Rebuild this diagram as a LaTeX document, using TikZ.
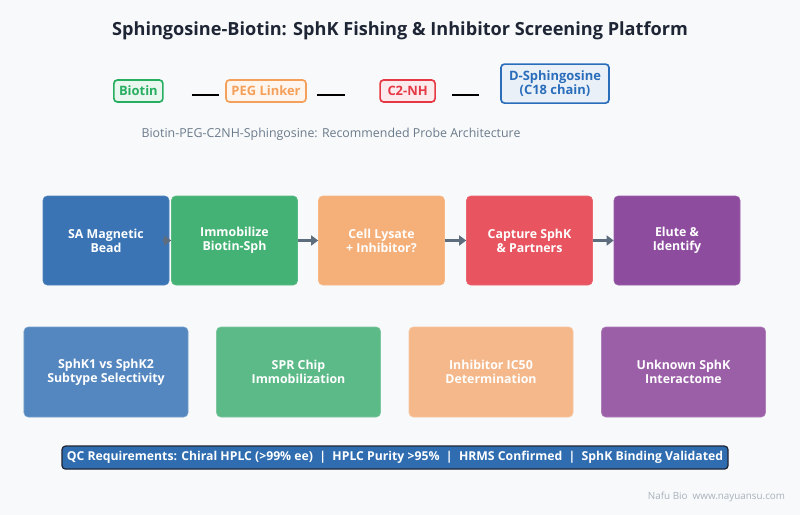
\documentclass[tikz,border=0pt]{standalone}
\usepackage{fontspec}
\setmainfont{Open Sans}
\usepackage{tikz}
\usetikzlibrary{arrows.meta, positioning, calc}
\usepackage{xcolor}

\definecolor{bgc}{HTML}{F8F9FA}
\definecolor{titlec}{HTML}{1E2535}
\definecolor{biog}{HTML}{27AE60}
\definecolor{pegor}{HTML}{F5A05A}
\definecolor{c2red}{HTML}{E63946}
\definecolor{sphbl}{HTML}{2A6EBB}
\definecolor{subg}{HTML}{6B7B8C}
\definecolor{arrg}{HTML}{5D6D7E}
\definecolor{fblue}{HTML}{3A74B4}
\definecolor{fgreen}{HTML}{45B275}
\definecolor{forange}{HTML}{F5B07A}
\definecolor{fred}{HTML}{E85560}
\definecolor{fpurple}{HTML}{8E4C9E}
\definecolor{ablue}{HTML}{5487C0}
\definecolor{agreen}{HTML}{5CBA88}
\definecolor{aorange}{HTML}{F5B88A}
\definecolor{apurple}{HTML}{9B5FA8}
\definecolor{qcblue}{HTML}{2F6DB0}
\definecolor{footg}{HTML}{A9B2BD}

\begin{document}
\begin{tikzpicture}[
    part/.style={draw=#1, fill=#1!10, line width=1.2pt, rounded corners=2.5pt, text=#1,
        font=\bfseries\fontsize{9.2}{10}\selectfont, inner sep=2pt, minimum height=0.55cm, align=center},
    link/.style={line width=1.6pt, black},
    flow/.style={fill=#1, draw=#1!90!white, rounded corners=3pt, minimum width=3.15cm, minimum height=2.225cm,
        text=white, font=\bfseries\fontsize{8.8}{10}\selectfont, align=center},
    app/.style={fill=#1, draw=#1!80!white, rounded corners=3pt, minimum width=4.1cm, minimum height=2.25cm,
        text=white, font=\bfseries\fontsize{8.8}{10}\selectfont, align=center},
    arrow/.style={-{Triangle[length=5pt,width=7pt]}, line width=1.8pt, arrg}
]
    \fill[bgc] (0,0) rectangle (20,-12.875);

    \node[font=\bfseries\fontsize{12.9}{14}\selectfont, text=titlec] (title) at (10,-0.78)
        {Sphingosine-Biotin: SphK Fishing \& Inhibitor Screening Platform};

    % probe architecture
    \node[part=biog, minimum width=1.225cm] (bio) at (3.46,-2.275) {Biotin};
    \node[part=pegor, minimum width=2cm] (peg) at (6.65,-2.275) {PEG Linker};
    \node[part=c2red, minimum width=1.375cm] (c2) at (10.19,-2.275) {C2-NH};
    \node[part=sphbl, minimum width=2.7cm, minimum height=0.975cm] (sph) at (13.875,-2.09) {D-Sphingosine\\(C18 chain)};

    \draw[link, shorten <=0.7cm, shorten >=0.15cm] ([yshift=-0.1cm]bio.east) -- ([yshift=-0.1cm]peg.west);
    \draw[link, shorten <=0.25cm, shorten >=0.85cm] ([yshift=-0.1cm]peg.east) -- ([yshift=-0.1cm]c2.west);
    \draw[link, shorten <=0.4cm, shorten >=0.525cm] ([yshift=-0.1cm]c2.east) -- ([yshift=-0.1cm]c2.east -| sph.west);

    \node[font=\fontsize{8.8}{10}\selectfont, text=subg] (sub) at (8.275,-3.35)
        {Biotin-PEG-C2NH-Sphingosine: Recommended Probe Architecture};

    % workflow
    \node[flow=fblue] (f1) at (2.65,-6.0125) {SA Magnetic\\Bead};
    \node[flow=fgreen] (f2) at (5.8625,-6.0125) {Immobilize\\Biotin-Sph};
    \node[flow=forange] (f3) at (9.5375,-6.0125) {Cell Lysate\\+ Inhibitor?};
    \node[flow=fred] (f4) at (13.2375,-6.0125) {Capture SphK\\\& Partners};
    \node[flow=fpurple] (f5) at (16.925,-6.0125) {Elute \&\\Identify};

    \draw[arrow] ([xshift=-0.15cm]f1.east) -- (f2.west);
    \draw[arrow] (f2.east) -- (f3.west);
    \draw[arrow] (f3.east) -- (f4.west);
    \draw[arrow] (f4.east) -- (f5.west);

    % applications
    \node[app=ablue] (a1) at (2.65,-9.3) {SphK1 vs SphK2\\Subtype Selectivity};
    \node[app=agreen] (a2) at (7.4625,-9.3) {SPR Chip\\Immobilization};
    \node[app=aorange] (a3) at (12.275,-9.3) {Inhibitor IC50\\Determination};
    \node[app=apurple] (a4) at (17.0875,-9.3) {Unknown SphK\\Interactome};

    % QC
    \node[fill=qcblue, draw=titlec, line width=0.9pt, rounded corners=2.5pt, minimum width=16.65cm, minimum height=0.575cm,
        text=white, font=\bfseries\fontsize{8.7}{10}\selectfont] (qc) at (9.875,-11.44)
        {QC Requirements: Chiral HPLC (>99\% ee) \ | \ HPLC Purity >95\% \ | \ HRMS Confirmed \ | \ SphK Binding Validated};

    \node[anchor=east, font=\fontsize{7}{8}\selectfont, text=footg] (foot) at (19.75,-12.425) {Nafu Bio\ \ www.nayuansu.com};
\end{tikzpicture}
\end{document}
